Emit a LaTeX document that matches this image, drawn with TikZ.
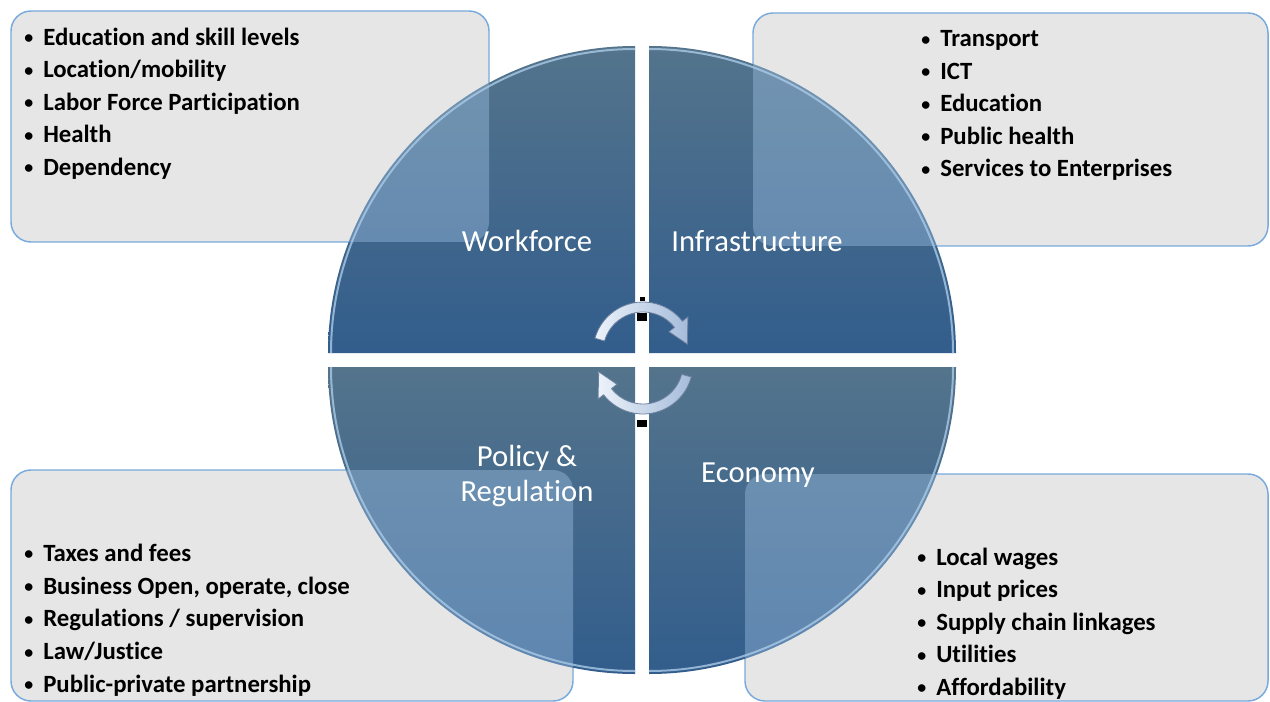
\documentclass[tikz,border=0pt]{standalone}
\usepackage{fontspec}
\setmainfont{Carlito}[Ligatures=NoCommon]
\usetikzlibrary{arrows.meta}
\definecolor{boxgray}{RGB}{230,230,230}
\definecolor{boxline}{RGB}{120,170,220}
\definecolor{qtop}{RGB}{84,116,140}
\definecolor{qbot}{RGB}{50,93,140}
\definecolor{qover}{RGB}{170,205,238}
\definecolor{qedge}{RGB}{170,202,230}
\definecolor{arrowlight}{RGB}{236,242,250}
\definecolor{arrowdark}{RGB}{165,188,218}
\definecolor{arrowline}{RGB}{110,130,160}
\newcommand{\bul}{\makebox[14.25pt][l]{\raisebox{1.2pt}{\scalebox{0.72}{\textbullet}}}}
\tikzset{
  infobox/.style={fill=boxgray, draw=boxline, line width=1.1pt, rounded corners=15pt},
  quad/.style={top color=qtop, bottom color=qbot},
  overlay/.style={fill=qover, fill opacity=0.37, rounded corners=15pt},
  bevel/.style={draw=qedge, line width=1.5pt, draw opacity=0.8},
  qlabel/.style={text=white, inner sep=0pt, align=center, font=\fontsize{23}{26.25}\selectfont},
  item/.style={anchor=base west, inner sep=0pt, text=black, font=\bfseries\fontsize{18.6}{22}\selectfont},
  cyc/.style={draw=arrowline, line width=0.6pt, left color=arrowlight, right color=arrowdark},
}
\begin{document}
\begin{tikzpicture}[x=0.75pt,y=0.75pt]
\useasboundingbox (0,0) rectangle (1270,-702);
\fill[white] (0,0) rectangle (1270,-702);

% corner coordinates of the four boxes
\coordinate (tl1) at (11,-11);   \coordinate (tl2) at (489,-242);
\coordinate (tr1) at (753,-13);  \coordinate (tr2) at (1268,-246);
\coordinate (bl1) at (11,-470);  \coordinate (bl2) at (573,-701);
\coordinate (br1) at (745,-474); \coordinate (br2) at (1268,-701);

% boxes
\path[infobox] (tl1) rectangle (tl2);
\path[infobox] (tr1) rectangle (tr2);
\path[infobox] (bl1) rectangle (bl2);
\path[infobox] (br1) rectangle (br2);

% quadrants
\shade[quad] (635,-353) -- (328,-353) arc[start angle=180,end angle=90,radius=307] -- cycle;
\shade[quad] (649,-353) -- (649,-46) arc[start angle=90,end angle=0,radius=307] -- cycle;
\shade[quad] (635,-367) -- (328,-367) arc[start angle=180,end angle=270,radius=307] -- cycle;
\shade[quad] (649,-367) -- (956,-367) arc[start angle=0,end angle=-90,radius=307] -- cycle;

% translucent overlaps of boxes and quadrants
\begin{scope}
  \clip (635,-353) -- (328,-353) arc[start angle=180,end angle=90,radius=307] -- cycle;
  \path[overlay] (tl1) rectangle (tl2);
\end{scope}
\begin{scope}
  \clip (649,-353) -- (649,-46) arc[start angle=90,end angle=0,radius=307] -- cycle;
  \path[overlay] (tr1) rectangle (tr2);
\end{scope}
\begin{scope}
  \clip (635,-367) -- (328,-367) arc[start angle=180,end angle=270,radius=307] -- cycle;
  \path[overlay] (bl1) rectangle (bl2);
\end{scope}
\begin{scope}
  \clip (649,-367) -- (956,-367) arc[start angle=0,end angle=-90,radius=307] -- cycle;
  \path[overlay] (br1) rectangle (br2);
\end{scope}

% bevel highlights
\path[bevel] (331,-353) arc[start angle=180,end angle=90,radius=304];
\path[bevel] (649,-49) arc[start angle=90,end angle=0,radius=304];
\path[bevel] (331,-367) arc[start angle=180,end angle=270,radius=304];
\path[bevel] (953,-367) arc[start angle=0,end angle=-90,radius=304];

% quadrant labels
\node[qlabel] (wf) at (527,-241) {Workforce};
\node[qlabel] (inf) at (757,-241) {Infrastructure};
\node[qlabel] (pol) at (527,-476) {Policy \&\\Regulation};
\node[qlabel] (eco) at (758,-475) {Economy};

% small dark marks in the gap
\fill[black] (640,-297) rectangle (645,-301);
\fill[black] (637,-313) rectangle (647,-321);
\fill[black] (639,-404) rectangle (647,-408);
\fill[black] (637,-420) rectangle (647,-427);

% cycle arrows
\coordinate (ca) at (643,-352);
\coordinate (cb) at (643,-364);
\path[cyc] ([shift={(164:50)}]ca) arc[start angle=164,end angle=38,radius=50]
  -- ([shift={(38:57)}]ca) -- ([shift={(10:45)}]ca) -- ([shift={(38:33)}]ca)
  -- ([shift={(38:40)}]ca) arc[start angle=38,end angle=164,radius=40] -- cycle;
\path[cyc] ([shift={(-15:50)}]cb) arc[start angle=-15,end angle=-142,radius=50]
  -- ([shift={(-142:57)}]cb) -- ([shift={(-170:45)}]cb) -- ([shift={(-142:33)}]cb)
  -- ([shift={(-142:40)}]cb) arc[start angle=-142,end angle=-15,radius=40] -- cycle;

% bullet lists
\foreach \t [count=\i] in {Education and skill levels, Location/mobility, Labor Force Participation, Health, Dependency}
  \node[item] (tl-\i) at (24,{-45.5-32.4*(\i-1)}) {\bul\t};
\foreach \t [count=\i] in {Transport, ICT, Education, Public health, Services to Enterprises}
  \node[item] (tr-\i) at (921,{-47-32.5*(\i-1)}) {\bul\t};
\foreach \t [count=\i] in {Taxes and fees, {Business Open, operate, close}, Regulations / supervision, Law/Justice, Public-private partnership}
  \node[item] (bl-\i) at (24,{-561.5-32.7*(\i-1)}) {\bul\t};
\foreach \t [count=\i] in {Local wages, Input prices, Supply chain linkages, Utilities, Affordability}
  \node[item] (br-\i) at (917,{-565-32.6*(\i-1)}) {\bul\t};
\end{tikzpicture}
\end{document}
